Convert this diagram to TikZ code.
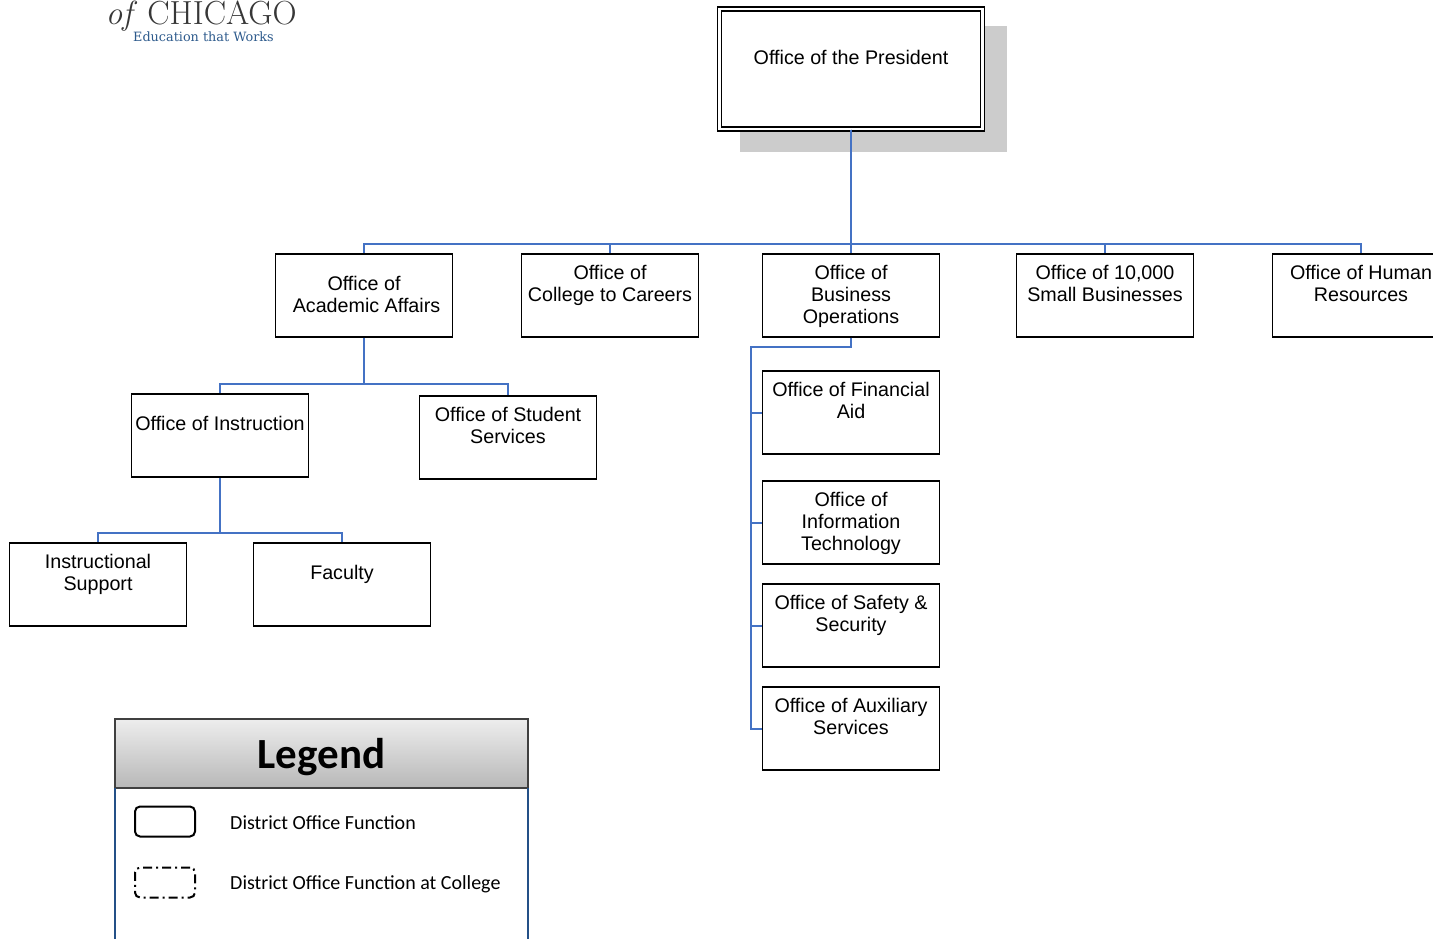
\documentclass[tikz,border=0pt]{standalone}
\usepackage{fontspec}
\setmainfont{Liberation Sans}
\newfontfamily\legendfont{Carlito}
\newfontfamily\taglinefont{DejaVu Serif}
\usetikzlibrary{shadings}

\definecolor{linkblue}{RGB}{68,114,196}
\definecolor{frameblue}{RGB}{36,80,135}
\definecolor{logogray}{RGB}{55,55,55}
\definecolor{logoblue}{RGB}{45,90,140}

% spacing inside the boxes
\newcommand{\padlow}{\\[2pt]~}
\newcommand{\padtop}{\rule{0pt}{16.2pt}}

\begin{document}
\begin{tikzpicture}[x=1pt, y=-1pt, node distance=246pt,
	office/.style={rectangle, draw, line width=1.6pt, minimum width=177pt, minimum height=83pt, inner sep=0pt, align=center, font=\fontsize{19.7}{22}\selectfont},
	bus/.style={draw=linkblue, line width=2pt, to path={-- ++(0,#1) -| (\tikztotarget)}},
	sidearm/.style={draw=linkblue, line width=2pt, to path={-- ++(0,9) -- ++(-100,0) |- (\tikztotarget)}},
	keybox/.style={rectangle, rounded corners=5pt, draw, line width=2pt, minimum width=60pt, minimum height=30pt},
	keytext/.style={anchor=west, inner sep=0pt, font=\legendfont\fontsize{20}{22}\selectfont}]

		\useasboundingbox (0,0) rectangle (1433,938);

		% logo
		\node[anchor=base west, inner sep=0pt, text=logogray, font=\fontfamily{lmr}\fontsize{33.4}{34}\selectfont] (logoname) at (105.5,24.5) {\textit{of} CHICAGO};
		\node[anchor=base west, inner sep=0pt, text=logoblue, font=\taglinefont\fontsize{12.8}{15}\selectfont] (logotag) at (133,41) {Education that Works};

		% top of the chart
		\node[rectangle, fill=black!20, minimum width=267pt, minimum height=126pt, inner sep=0pt] (presshadow) at (873.5,89) {};
		\node[office, fill=white, double, double distance=2.8pt, line width=1.3pt, minimum width=263pt, minimum height=120pt] (president) at (851,69) {Office of the President\padlow};

		\node[office] (academic) at (364,295.5) {Office of\\ \hspace*{5pt}Academic Affairs\\[-20pt]~};
		\node[office] (college) [right of=academic] {Office of\\ College to Careers\padlow};
		\node[office] (bizops) [right of=college, node distance=241pt] {\padtop Office of\\ Business\\ Operations};
		\node[office] (smallbiz) [right of=bizops, node distance=254pt] {Office of 10,000\\ Small Businesses\padlow};
		\node[office] (humanres) [right of=smallbiz, node distance=256pt] {Office of Human\\ Resources\padlow};

		\node[office] (instruction) at (220,435.5) {Office of Instruction\padlow};
		\node[office] (student) at (508,437.5) {Office of Student\\ Services\padlow};
		\node[office] (support) at (98,584.5) {Instructional\\ Support\padlow};
		\node[office] (faculty) [right of=support, node distance=244pt] {Faculty\padlow};

		\node[office] (finaid) at (851,412.5) {Office of Financial\\ Aid\padlow};
		\node[office] (infotech) [below of=finaid, node distance=110pt] {\padtop Office of\\ Information\\ Technology};
		\node[office] (safety) [below of=infotech, node distance=103pt] {Office of Safety \&\\ Security\padlow};
		\node[office] (auxiliary) [below of=safety, node distance=103pt] {Office of Auxiliary\\ Services\padlow};

		\path
		(president.south) edge[bus=114] (academic.north)
				edge[bus=114] (college.north)
				edge[bus=114] (bizops.north)
				edge[bus=114] (smallbiz.north)
				edge[bus=114] (humanres.north)
		(academic.south) edge[bus=46] (instruction.north)
				edge[bus=46] (student.north)
		(instruction.south) edge[bus=55] (support.north)
				edge[bus=55] (faculty.north)
		(bizops.south) edge[sidearm] (finaid.west)
				edge[sidearm] (infotech.west)
				edge[sidearm] (safety.west)
				edge[sidearm] (auxiliary.west);

		% legend
		\node[rectangle, draw=black!75, line width=1.6pt, outer sep=0pt, top color=black!7, bottom color=black!28, minimum width=413pt, minimum height=69pt, inner sep=0pt, font=\legendfont\bfseries\fontsize{43}{46}\selectfont] (legendhead) at (321.5,753.5) {\raisebox{-14.5pt}[0pt][0pt]{Legend}};
		\coordinate (frameleft) at (115,940);
		\coordinate (frameright) at (528,940);
		\draw[frameblue, line width=2pt] (legendhead.south west) -- (frameleft);
		\draw[frameblue, line width=2pt] (legendhead.south east) -- (frameright);
		\node[keybox] (keysolid) at (165,821.5) {};
		\node[keybox, dash pattern=on 9pt off 4pt on 2pt off 4pt] (keydashed) [below of=keysolid, node distance=61pt] {};
		\node[keytext] (keysolidtext) at (230,822.5) {District Office Function};
		\node[keytext] (keydashedtext) at (230,884) {District Office Function at College};

\end{tikzpicture}
\end{document}
